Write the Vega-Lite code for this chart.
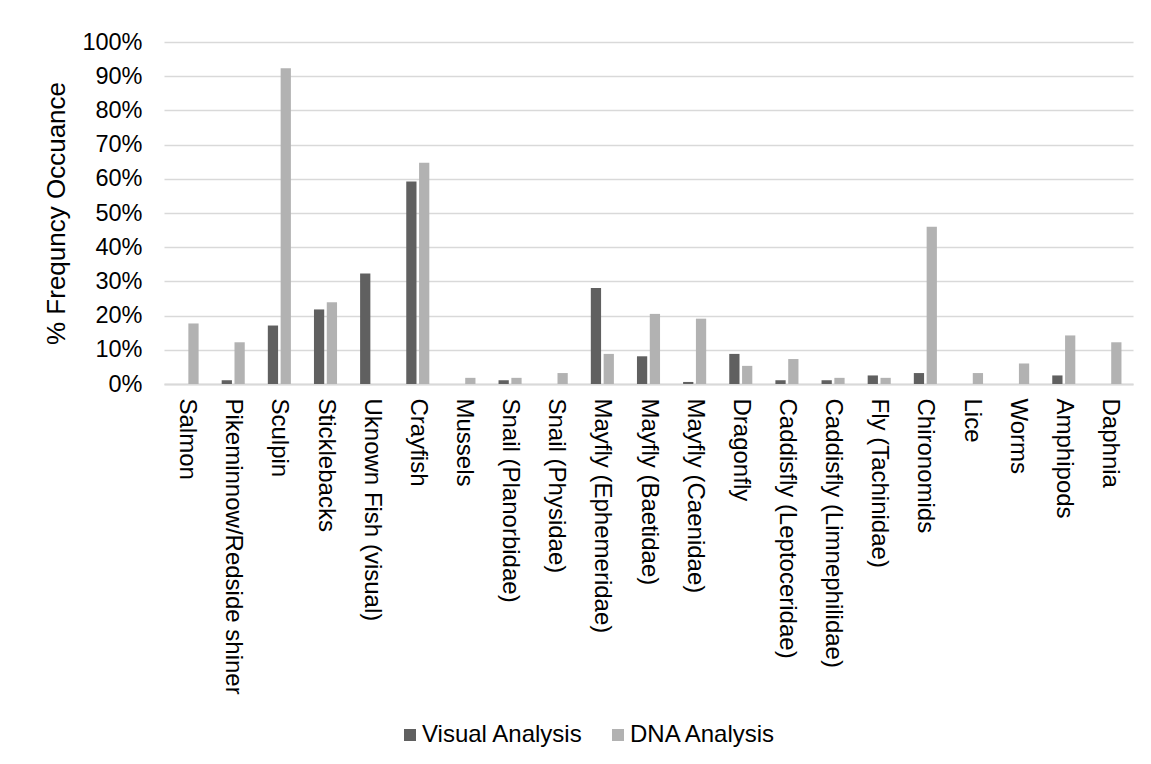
{
  "$schema": "https://vega.github.io/schema/vega-lite/v6.json",
  "autosize": "none",
  "width": 969,
  "height": 342,
  "padding": {"left": 164, "top": 42, "right": 18, "bottom": 380},
  "background": "white",
  "config": {
    "font": "Liberation Sans",
    "view": {"stroke": null},
    "axis": {"labelFont": "Liberation Sans", "titleFont": "Liberation Sans", "labelColor": "#000000", "titleColor": "#000000"},
    "legend": {"labelFont": "Liberation Sans"}
  },
  "data": {
    "values": [
      {"prey": "Salmon", "method": "Visual Analysis", "value": 0},
      {"prey": "Salmon", "method": "DNA Analysis", "value": 0.177},
      {"prey": "Pikeminnow/Redside shiner", "method": "Visual Analysis", "value": 0.011},
      {"prey": "Pikeminnow/Redside shiner", "method": "DNA Analysis", "value": 0.122},
      {"prey": "Sculpin", "method": "Visual Analysis", "value": 0.171},
      {"prey": "Sculpin", "method": "DNA Analysis", "value": 0.923},
      {"prey": "Sticklebacks", "method": "Visual Analysis", "value": 0.218},
      {"prey": "Sticklebacks", "method": "DNA Analysis", "value": 0.239},
      {"prey": "Uknown Fish (visual)", "method": "Visual Analysis", "value": 0.323},
      {"prey": "Uknown Fish (visual)", "method": "DNA Analysis", "value": 0},
      {"prey": "Crayfish", "method": "Visual Analysis", "value": 0.592},
      {"prey": "Crayfish", "method": "DNA Analysis", "value": 0.647},
      {"prey": "Mussels", "method": "Visual Analysis", "value": 0},
      {"prey": "Mussels", "method": "DNA Analysis", "value": 0.018},
      {"prey": "Snail (Planorbidae)", "method": "Visual Analysis", "value": 0.011},
      {"prey": "Snail (Planorbidae)", "method": "DNA Analysis", "value": 0.018},
      {"prey": "Snail (Physidae)", "method": "Visual Analysis", "value": 0},
      {"prey": "Snail (Physidae)", "method": "DNA Analysis", "value": 0.032},
      {"prey": "Mayfly (Ephemeridae)", "method": "Visual Analysis", "value": 0.281},
      {"prey": "Mayfly (Ephemeridae)", "method": "DNA Analysis", "value": 0.088},
      {"prey": "Mayfly  (Baetidae)", "method": "Visual Analysis", "value": 0.081},
      {"prey": "Mayfly  (Baetidae)", "method": "DNA Analysis", "value": 0.205},
      {"prey": "Mayfly (Caenidae)", "method": "Visual Analysis", "value": 0.006},
      {"prey": "Mayfly (Caenidae)", "method": "DNA Analysis", "value": 0.191},
      {"prey": "Dragonfly", "method": "Visual Analysis", "value": 0.088},
      {"prey": "Dragonfly", "method": "DNA Analysis", "value": 0.053},
      {"prey": "Caddisfly (Leptoceridae)", "method": "Visual Analysis", "value": 0.011},
      {"prey": "Caddisfly (Leptoceridae)", "method": "DNA Analysis", "value": 0.073},
      {"prey": "Caddisfly (Limnephilidae)", "method": "Visual Analysis", "value": 0.011},
      {"prey": "Caddisfly (Limnephilidae)", "method": "DNA Analysis", "value": 0.018},
      {"prey": "Fly (Tachinidae)", "method": "Visual Analysis", "value": 0.025},
      {"prey": "Fly (Tachinidae)", "method": "DNA Analysis", "value": 0.018},
      {"prey": "Chironomids", "method": "Visual Analysis", "value": 0.032},
      {"prey": "Chironomids", "method": "DNA Analysis", "value": 0.46},
      {"prey": "Lice", "method": "Visual Analysis", "value": 0},
      {"prey": "Lice", "method": "DNA Analysis", "value": 0.032},
      {"prey": "Worms", "method": "Visual Analysis", "value": 0},
      {"prey": "Worms", "method": "DNA Analysis", "value": 0.06},
      {"prey": "Amphipods", "method": "Visual Analysis", "value": 0.025},
      {"prey": "Amphipods", "method": "DNA Analysis", "value": 0.142},
      {"prey": "Daphnia", "method": "Visual Analysis", "value": 0},
      {"prey": "Daphnia", "method": "DNA Analysis", "value": 0.122}
    ]
  },
  "mark": {"type": "bar"},
  "encoding": {
    "x": {
      "field": "prey",
      "type": "nominal",
      "sort": null,
      "scale": {"paddingInner": 0.5, "paddingOuter": 0.25},
      "axis": {
        "title": null,
        "labelAngle": 90,
        "labelFontSize": 24,
        "labelPadding": 14,
        "labelLimit": 0,
        "ticks": false,
        "domainColor": "#d9d9d9",
        "domainWidth": 2
      }
    },
    "xOffset": {
      "field": "method",
      "type": "nominal",
      "sort": ["Visual Analysis", "DNA Analysis"],
      "scale": {"paddingInner": 0.2}
    },
    "y": {
      "field": "value",
      "type": "quantitative",
      "scale": {"domain": [0, 1], "nice": false},
      "axis": {
        "title": "% Frequncy Occuance",
        "titleFontSize": 26,
        "titleFontWeight": "normal",
        "titlePadding": 12,
        "labelFontSize": 23.5,
        "labelPadding": 22,
        "format": ".0%",
        "values": [0, 0.1, 0.2, 0.3, 0.4, 0.5, 0.6, 0.7, 0.8, 0.9, 1],
        "ticks": false,
        "domain": false,
        "gridColor": "#d9d9d9",
        "gridWidth": 1.5
      }
    },
    "color": {
      "field": "method",
      "type": "nominal",
      "sort": ["Visual Analysis", "DNA Analysis"],
      "scale": {"domain": ["Visual Analysis", "DNA Analysis"], "range": ["#606060", "#b2b2b2"]},
      "legend": {
        "title": null,
        "orient": "none",
        "direction": "horizontal",
        "legendX": 234,
        "legendY": 681,
        "symbolType": "square",
        "symbolSize": 144,
        "symbolStrokeWidth": 0,
        "labelFontSize": 24,
        "labelLimit": 0,
        "labelOffset": 0,
        "columnPadding": 23,
        "labelColor": "#000000"
      }
    }
  }
}
